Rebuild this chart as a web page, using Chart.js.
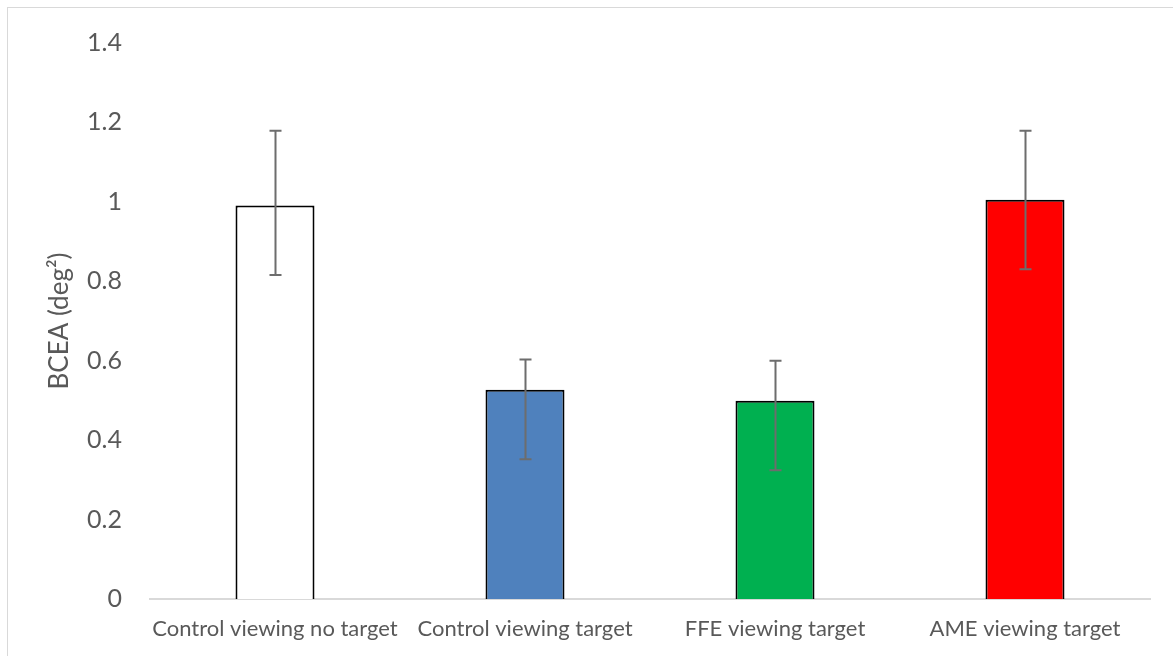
<!DOCTYPE html>
<html>
<head>
<meta charset="utf-8">
<script src="https://cdn.jsdelivr.net/npm/chart.js@4/dist/chart.umd.min.js"></script>
<style>
  html, body { margin: 0; padding: 0; background: #fff; overflow: hidden; }
  #wrap { position: relative; width: 1173px; height: 656px; }
  #frame { position: absolute; left: 7px; top: 7px; width: 1200px; height: 700px; border: 1px solid #d9d9d9; box-sizing: border-box; }
  #chart { position: absolute; left: 0; top: 0; }
</style>
</head>
<body>
<div id="wrap">
  <div id="frame"></div>
  <canvas id="chart" width="1173" height="656"></canvas>
</div>
<script>
// BCEA par condition : moyenne + barres d'erreur (bornes basse / haute)
const conditions = ['Control viewing no target', 'Control viewing target', 'FFE viewing target', 'AME viewing target'];
const bceaMean = [0.991, 0.527, 0.499, 1.005];
const errLower = [0.816, 0.352, 0.324, 0.830];
const errUpper = [1.179, 0.603, 0.600, 1.179];
const barColors = ['#ffffff', '#4f81bd', '#00b050', '#ff0000'];
const yTicks = [0, 0.2, 0.4, 0.6, 0.8, 1, 1.2, 1.4];

const FONT = 'Lato, "Open Sans", sans-serif';
const TEXT = '#595959';

const errorBars = {
  id: 'errorBars',
  afterDatasetsDraw(chart) {
    const { ctx, scales: { y } } = chart;
    const meta = chart.getDatasetMeta(0);
    ctx.save();
    ctx.strokeStyle = '#6d6d6d';
    ctx.lineWidth = 2;
    meta.data.forEach((bar, i) => {
      const x = Math.round(bar.x) + 0.5;
      const yLo = y.getPixelForValue(errLower[i]);
      const yHi = y.getPixelForValue(errUpper[i]);
      const cap = 6;
      ctx.beginPath();
      ctx.moveTo(x, yLo);
      ctx.lineTo(x, yHi);
      ctx.moveTo(x - cap, yLo);
      ctx.lineTo(x + cap, yLo);
      ctx.moveTo(x - cap, yHi);
      ctx.lineTo(x + cap, yHi);
      ctx.stroke();
    });
    ctx.restore();
  }
};

new Chart(document.getElementById('chart'), {
  type: 'bar',
  data: {
    labels: conditions,
    datasets: [{
      data: bceaMean,
      backgroundColor: barColors,
      borderColor: '#000000',
      borderWidth: 2,
      barPercentage: 0.316,
      categoryPercentage: 1
    }]
  },
  options: {
    responsive: false,
    animation: false,
    events: [],
    layout: { padding: { left: 0, right: 23, top: 39, bottom: 0 } },
    plugins: { legend: { display: false }, tooltip: { enabled: false } },
    scales: {
      x: {
        grid: { display: false, drawTicks: false },
        border: { display: true, color: '#d9d9d9', width: 2 },
        ticks: { color: TEXT, font: { family: FONT, size: 22 }, padding: 17, maxRotation: 0, autoSkip: false },
        afterFit: (s) => { s.height = 57; }
      },
      y: {
        min: 0,
        max: 1.4,
        afterBuildTicks: (s) => { s.ticks = yTicks.map((v) => ({ value: v })); },
        grid: { display: false, drawTicks: false },
        border: { display: false },
        ticks: { color: TEXT, font: { family: FONT, size: 25 }, padding: 28, callback: (v) => String(Math.round(v * 10) / 10) },
        title: { display: true, text: 'BCEA (deg²)', color: TEXT, font: { family: FONT, size: 26 }, padding: { top: 44, bottom: 0 } },
        afterFit: (s) => { s.width = 150; }
      }
    }
  },
  plugins: [errorBars]
});
</script>
</body>
</html>
